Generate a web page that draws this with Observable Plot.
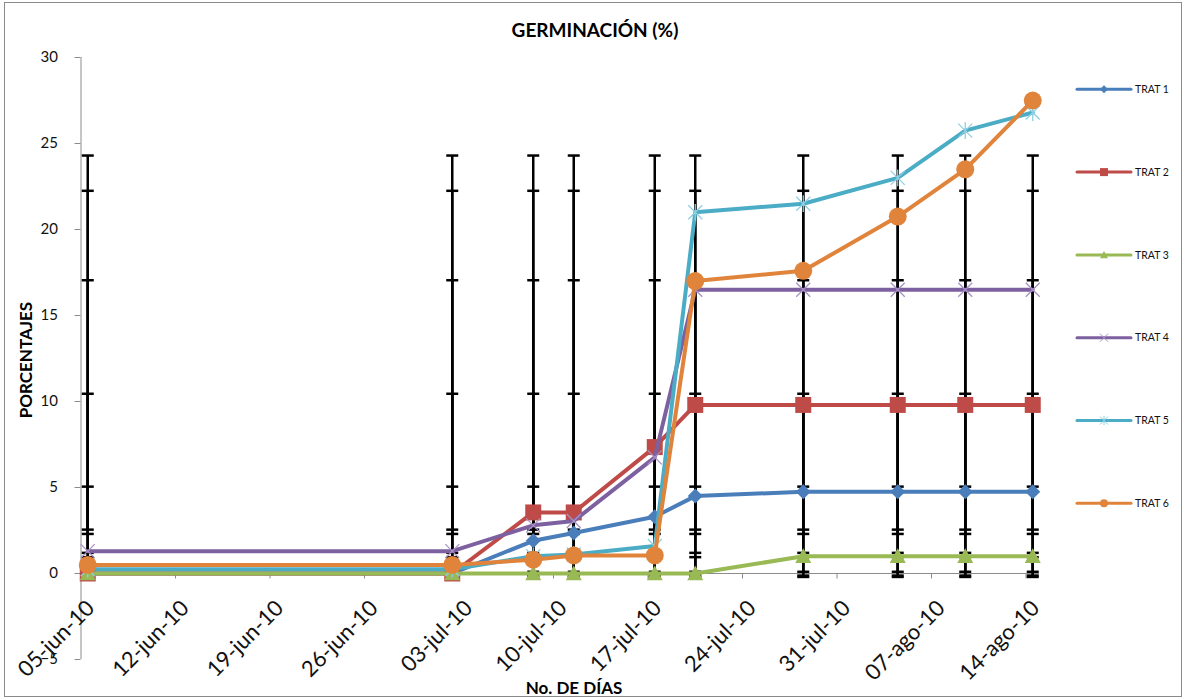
<!DOCTYPE html>
<html>
<head>
<meta charset="utf-8">
<script src="https://cdn.jsdelivr.net/npm/d3@7"></script>
<script src="https://cdn.jsdelivr.net/npm/@observablehq/plot@0.6"></script>
<style>
  body { margin: 0; background: #fff; }
  #wrap { position: relative; width: 1186px; height: 700px; overflow: hidden; font-family: Lato, "Open Sans", sans-serif; color: #000; }
  #frame { position: absolute; left: 4px; top: 2px; width: 1178px; height: 695px; border: 1px solid #8a8a8a; box-sizing: border-box; pointer-events: none; }
  #title { position: absolute; left: 0; width: 1190px; top: 18px; text-align: center; font-weight: bold; font-size: 19px; }
  #ylabel { position: absolute; left: 25px; top: 360px; transform: translate(-50%, -50%) rotate(-90deg); font-weight: bold; font-size: 17px; white-space: nowrap; }
  #xlabel { position: absolute; left: 574px; top: 677px; transform: translateX(-50%); font-weight: bold; font-size: 17px; white-space: nowrap; }
  #chart { position: absolute; left: 0; top: 0; }
  #legend { position: absolute; left: 1070px; top: 60px; }
</style>
</head>
<body>
<div id="wrap">
  <div id="chart"></div>
  <div id="title">GERMINACIÓN (%)</div>
  <div id="ylabel">PORCENTAJES</div>
  <div id="xlabel">No. DE DÍAS</div>
  <div id="legend"></div>
  <div id="frame"></div>
</div>
<script>
// ---------- data ----------
const dates = ["2010-06-05","2010-07-02","2010-07-08","2010-07-11","2010-07-17","2010-07-20","2010-07-28","2010-08-04","2010-08-09","2010-08-14"];
const seriesNames = ["TRAT 1","TRAT 2","TRAT 3","TRAT 4","TRAT 5","TRAT 6"];
const trat1 = [0, 0, 1.9, 2.35, 3.3, 4.5, 4.75, 4.75, 4.75, 4.75];
const trat2 = [0, 0, 3.55, 3.55, 7.35, 9.8, 9.8, 9.8, 9.8, 9.8];
const trat3 = [0, 0, 0, 0, 0, 0, 1, 1, 1, 1];
const trat4 = [1.3, 1.3, 2.8, 3.05, 6.75, 16.5, 16.5, 16.5, 16.5, 16.5];
const trat5 = [0.25, 0.25, 1.0, 1.1, 1.6, 21.0, 21.5, 23.0, 25.75, 26.8];
const trat6 = [0.5, 0.5, 0.8, 1.05, 1.05, 17.0, 17.6, 20.75, 23.5, 27.5];
// error bars (Excel standard-deviation bars: same span at every date of a series)
const errLow  = [1.2, 2.3, -0.12, 2.55, 0.1, -0.2];
const errHigh = [5.05, 10.45, 0.95, 17.05, 24.3, 22.25];
const colors = ["#4a7ebb", "#be4b48", "#98b954", "#7d60a0", "#4bacc6", "#e0843c"];
const markerAccent = ["#4a7ebb", "#be4b48", "#98b954", "#a891c4", "#8fd0e2", "#e0843c"];
const yTicks = [-5, 0, 5, 10, 15, 20, 25, 30];
const xTickDates = ["2010-06-05","2010-06-12","2010-06-19","2010-06-26","2010-07-03","2010-07-10","2010-07-17","2010-07-24","2010-07-31","2010-08-07","2010-08-14"];
const xTickLabels = ["05-jun-10","12-jun-10","19-jun-10","26-jun-10","03-jul-10","10-jul-10","17-jul-10","24-jul-10","31-jul-10","07-ago-10","14-ago-10"];

// ---------- derived tables ----------
const parse = d3.utcParse("%Y-%m-%d");
const values = [trat1, trat2, trat3, trat4, trat5, trat6];
const dateObjs = dates.map(parse);
const rows = seriesNames.flatMap((s, i) => dateObjs.map((d, j) => ({series: s, idx: i, date: d, value: values[i][j]})));
const errRows = seriesNames.flatMap((s, i) => dateObjs.map(d => ({series: s, date: d, lo: errLow[i], hi: errHigh[i]})));
const tickCenters = xTickDates.map(parse);
// Excel date axis: each day is a slot, ticks sit on the slot boundaries
const tickBounds = tickCenters.map(d => d3.utcHour.offset(d, -12));
const xDomain = [d3.utcHour.offset(parse("2010-06-05"), -12), d3.utcHour.offset(parse("2010-08-14"), 12)];

// ---------- custom symbols ----------
const rad = size => Math.sqrt(size / Math.PI);
const sym = {
  diamond: {draw(c, s) { const r = rad(s); c.moveTo(0, -r); c.lineTo(r, 0); c.lineTo(0, r); c.lineTo(-r, 0); c.closePath(); }},
  square: {draw(c, s) { const r = rad(s); c.rect(-r, -r, 2 * r, 2 * r); }},
  triangle: {draw(c, s) { const r = rad(s); c.moveTo(0, -r); c.lineTo(r, r * 0.85); c.lineTo(-r, r * 0.85); c.closePath(); }},
  times: {draw(c, s) { const r = rad(s); c.moveTo(-r, -r); c.lineTo(r, r); c.moveTo(-r, r); c.lineTo(r, -r); }},
  star: {draw(c, s) { const r = rad(s); c.moveTo(-r, -r); c.lineTo(r, r); c.moveTo(-r, r); c.lineTo(r, -r); c.moveTo(0, -r * 1.2); c.lineTo(0, r * 1.2); }},
  circle: {draw(c, s) { const r = rad(s); c.moveTo(r, 0); c.arc(0, 0, r, 0, 2 * Math.PI); }},
  cap: {draw(c, s) { const r = rad(s); c.moveTo(-r, 0); c.lineTo(r, 0); }},
  tickDown: {draw(c, s) { const r = rad(s); c.moveTo(0, 0); c.lineTo(0, r); }}
};
const markerDefs = [
  {symbol: sym.diamond, r: 7.5, filled: true},
  {symbol: sym.square, r: 8, filled: true},
  {symbol: sym.triangle, r: 8, filled: true},
  {symbol: sym.times, r: 7, filled: false},
  {symbol: sym.star, r: 7, filled: false},
  {symbol: sym.circle, r: 9, filled: true}
];

const axisGray = "#8c8c8c";

const seriesMarks = seriesNames.flatMap((s, i) => {
  const data = rows.filter(r => r.idx === i);
  const m = markerDefs[i];
  return [
    Plot.line(data, {x: "date", y: "value", stroke: colors[i], strokeWidth: 4, strokeLinejoin: "round", strokeLinecap: "round"}),
    Plot.dot(data, m.filled
      ? {x: "date", y: "value", symbol: m.symbol, r: m.r, fill: colors[i], stroke: "none"}
      : {x: "date", y: "value", symbol: m.symbol, r: m.r, fill: "none", stroke: markerAccent[i], strokeWidth: 1.3})
  ];
});

const chart = Plot.plot({
  width: 1186,
  height: 700,
  marginLeft: 80.5,
  marginRight: 147,
  marginTop: 57,
  marginBottom: 41,
  style: {fontFamily: "Lato, 'Open Sans', sans-serif", fontSize: "14px", background: "transparent", overflow: "visible"},
  x: {type: "utc", domain: xDomain, axis: null},
  y: {domain: [-5, 30], axis: null},
  marks: [
    // axes
    Plot.ruleX([xDomain[0]], {x: d => d, y1: () => -5, y2: () => 30, stroke: axisGray, strokeWidth: 1}),
    Plot.axisY({ticks: yTicks, anchor: "left", tickSize: 6, tickPadding: 17, stroke: axisGray, fill: "#111", fontSize: 15, label: null}),
    Plot.ruleY([0], {x1: () => xDomain[0], x2: () => xDomain[1], stroke: axisGray, strokeWidth: 1}),
    Plot.dot(tickBounds, {x: d => d, y: () => 0, symbol: sym.tickDown, r: 5, stroke: axisGray, strokeWidth: 1}),
    Plot.text(tickCenters, {x: d => d, y: () => 0, text: (d, i) => xTickLabels[i], rotate: -45, textAnchor: "end", dy: 31, dx: 3, fontSize: 22, fill: "#111"}),
    // error bars
    Plot.ruleX(errRows, {x: "date", y1: "lo", y2: "hi", stroke: "#000", strokeWidth: 2.5}),
    Plot.dot(errRows, {x: "date", y: "hi", symbol: sym.cap, r: 6, stroke: "#000", strokeWidth: 2.5}),
    Plot.dot(errRows, {x: "date", y: "lo", symbol: sym.cap, r: 6, stroke: "#000", strokeWidth: 2.5}),
    // series
    ...seriesMarks
  ]
});
document.getElementById("chart").appendChild(chart);

// ---------- legend ----------
const legend = d3.select("#legend").append("svg").attr("width", 116).attr("height", 470)
  .style("font-family", "Lato, 'Open Sans', sans-serif");
seriesNames.forEach((s, i) => {
  const g = legend.append("g").attr("transform", `translate(0, ${29.3 + i * 82.8})`);
  g.append("line").attr("x1", 7).attr("x2", 61).attr("y1", 0).attr("y2", 0)
    .attr("stroke", colors[i]).attr("stroke-width", 3).attr("stroke-linecap", "round");
  const m = markerDefs[i];
  const p = d3.symbol().type(m.symbol).size(Math.PI * 16)();
  g.append("path").attr("d", p).attr("transform", "translate(34,0)")
    .attr("fill", m.filled ? colors[i] : "none")
    .attr("stroke", m.filled ? "none" : markerAccent[i]).attr("stroke-width", 1);
  g.append("text").attr("x", 65).attr("y", 0).attr("dy", "0.35em").attr("font-size", 10.5).attr("fill", "#111").text(s);
});
</script>
</body>
</html>
